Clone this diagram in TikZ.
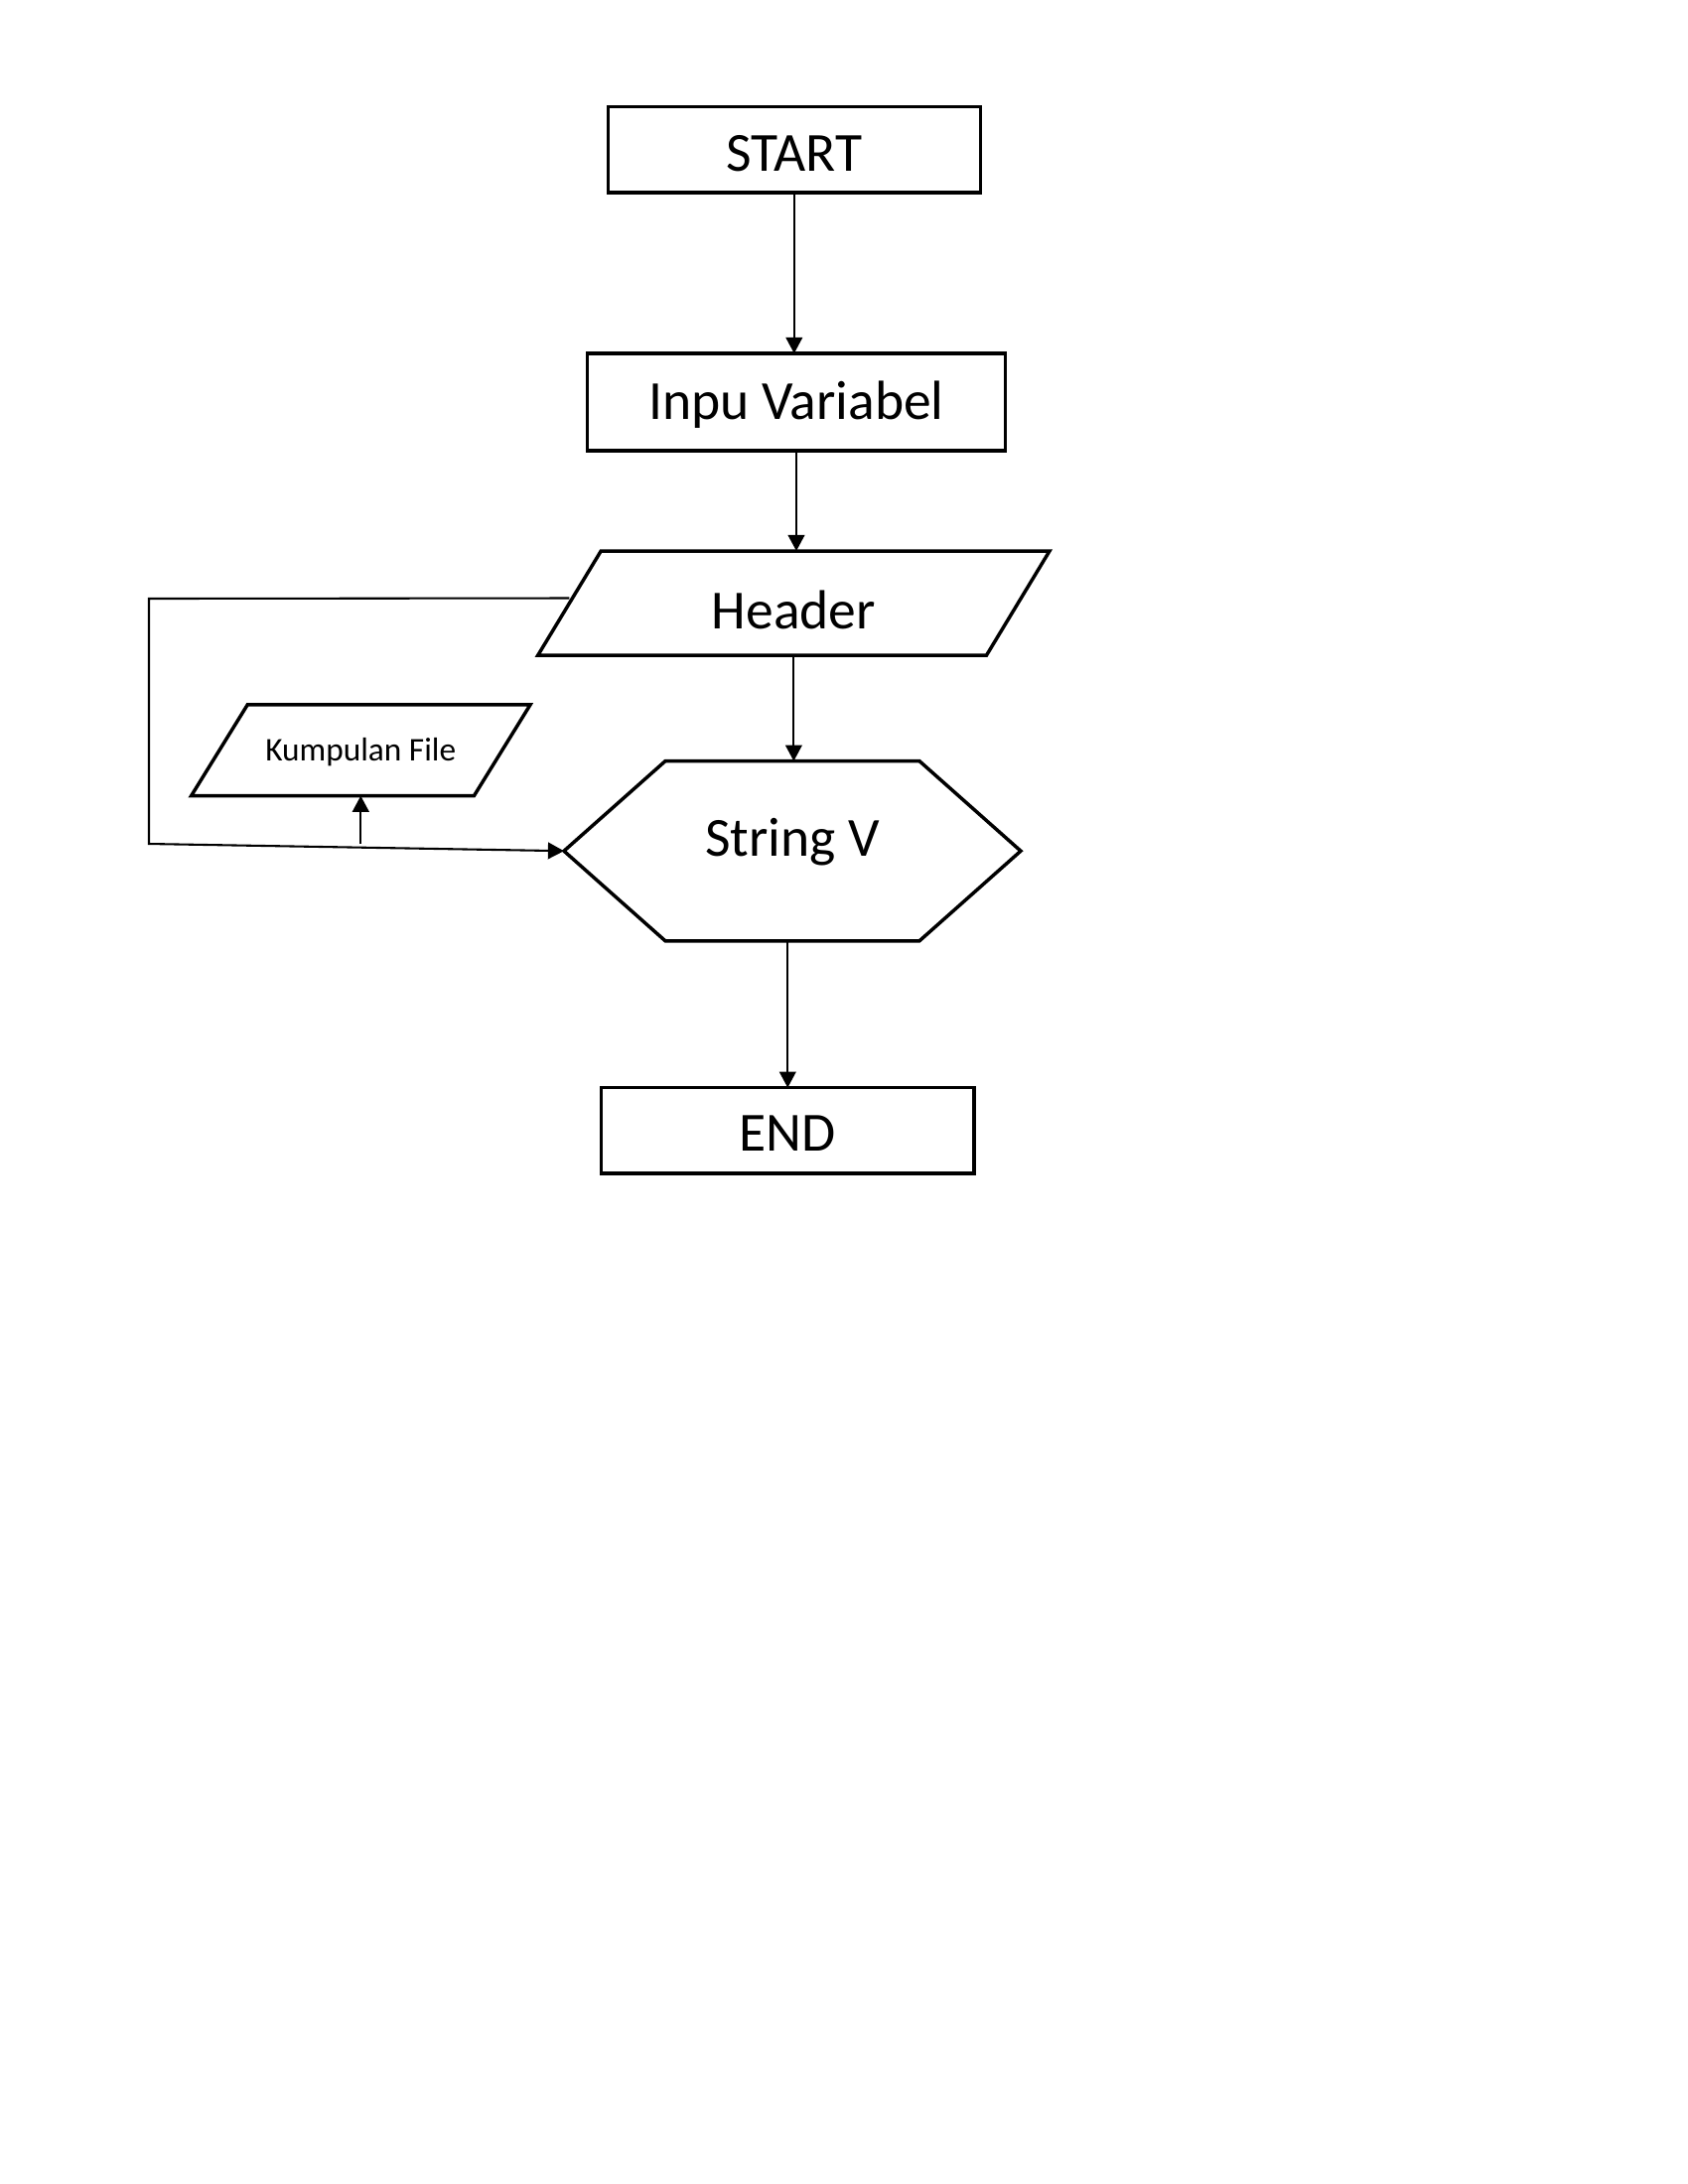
\documentclass[tikz,border=0pt]{standalone}
\usepackage{fontspec}
\setmainfont{Carlito}
\usetikzlibrary{positioning, calc, arrows.meta}

\begin{document}
\begin{tikzpicture}[x=0.36bp, y=-0.36bp,
    box/.style={draw, line width=1.25bp, outer sep=0pt, inner sep=0pt, text height=12.6bp, text depth=0pt,
        font=\fontsize{20bp}{24bp}\selectfont},
    outline/.style={inner sep=0pt, outer sep=0pt, text height=12.6bp, text depth=0pt,
        font=\fontsize{20bp}{24bp}\selectfont},
    shapeline/.style={line width=1.25bp, line join=miter},
    arr/.style={line width=0.75bp, -{Triangle[length=5.8bp, width=6bp]}}]
        \useasboundingbox (0,0) rectangle (1700,2200);

        \node[box, minimum width=135bp, minimum height=31.2bp, text height=15.6bp] (start) at (799.8,150.7) {START};
        \node[box, minimum width=151.4bp, minimum height=35.3bp] (inpu) at (802,405) {Inpu Variabel};
        \node[outline, minimum width=185.5bp, minimum height=37.8bp, text height=19bp] (hd) at (799.4,607.5) {Header};
        \node[outline, minimum width=165.6bp, minimum height=65.2bp, text depth=8.6bp] (sv) at (798,857.2) {String V};
        \node[outline, minimum width=122.9bp, minimum height=33bp, text height=7.6bp,
            font=\fontsize{12bp}{14bp}\selectfont] (kp) at (363.3,755.8) {Kumpulan File};
        \node[box, minimum width=135.1bp, minimum height=31bp, text height=14.8bp] (fin) at (793.3,1138.7) {END};

        % parallelograms and hexagon
        \draw[shapeline] (hd.south west) -- ($(hd.north west)+(63.5,0)$) -- (hd.north east) -- ($(hd.south east)+(-63.5,0)$) -- cycle;
        \draw[shapeline] (kp.south west) -- ($(kp.north west)+(56.6,0)$) -- (kp.north east) -- ($(kp.south east)+(-56.6,0)$) -- cycle;
        \draw[shapeline] (sv.west) -- ($(sv.north west)+(102,0)$) -- ($(sv.north east)+(-102,0)$) -- (sv.east)
            -- ($(sv.south east)+(-102,0)$) -- ($(sv.south west)+(102,0)$) -- cycle;

        \draw[arr] (start.south) -- (start.south |- inpu.north);
        \draw[arr] (inpu.south) -- (inpu.south |- hd.north);
        \draw[arr] (hd.south) -- (hd.south |- sv.north);
        \draw[arr] (fin.north |- sv.south) -- (fin.north);

        % loop on the left
        \coordinate (lp1) at (150,603);
        \coordinate (lp2) at (150,850);
        \draw[arr] ($(hd.west)+(31.7,-5)$) -- (lp1) -- (lp2) -- (sv.west);
        \draw[arr] (kp.south |- lp2) -- (kp.south);
    \end{tikzpicture}
\end{document}
